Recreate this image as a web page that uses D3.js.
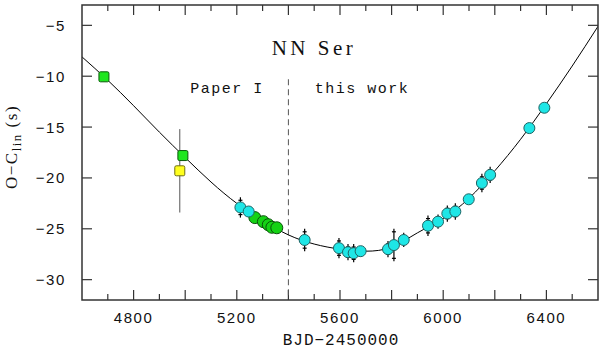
<!DOCTYPE html>
<html>
<head>
<meta charset="utf-8">
<script src="https://cdn.jsdelivr.net/npm/d3@7"></script>
<style>
  body { margin: 0; background: #fff; }
  .tick-label { font-family: "Liberation Sans", sans-serif; font-size: 15px; letter-spacing: 1.6px; fill: #111; }
  .mono { font-family: "Liberation Mono", monospace; fill: #111; }
</style>
</head>
<body>
<script>
//fitted curve
var curveX = [4600, 4700, 4800, 4900, 5000, 5100, 5200, 5300, 5400, 5500, 5600,
              5700, 5800, 5900, 6000, 6100, 6200, 6300, 6400, 6500, 6600];
var curveY = [-8.1, -10.4, -12.9, -15.5, -18.0, -20.4, -22.5, -24.2, -25.6, -26.5, -27.0,
              -27.2, -26.8, -25.4, -24.0, -22.0, -19.3, -16.2, -12.7, -9.0, -5.1];

//green squares
var sqGreenX = [4685, 4991];
var sqGreenY = [-10.06, -17.8];

//yellow square with big error bar
var sqYellowX = [4979];
var sqYellowY = [-19.3];
var sqYellowErr = [4.1];

//green circles
var circGreenX = [5270, 5303, 5322, 5336, 5355];
var circGreenY = [-23.9, -24.3, -24.6, -24.85, -24.9];

//cyan circles
var circCyanX = [5214, 5246, 5463, 5596, 5631, 5653, 5680, 5786, 5809, 5847,
                 5941, 5980, 6016, 6047, 6099, 6150, 6182, 6334, 6392];
var circCyanY = [-22.9, -23.3, -26.1, -26.9, -27.3, -27.4, -27.2, -27.0, -26.6, -26.1,
                 -24.7, -24.3, -23.5, -23.3, -22.1, -20.5, -19.7, -15.1, -13.1];
var circCyanErr = [1.0, 0.4, 1.1, 1.0, 0.8, 0.9, 0.5, 0.8, 1.6, 0.7,
                   1.0, 0.7, 0.8, 0.8, 0.4, 0.9, 0.8, 0.3, 0.3];

var xTicks = [4800, 5200, 5600, 6000, 6400];
var yTicks = [-30, -25, -20, -15, -10, -5];
var dividerX = 5400;

//plot box
var box = {left: 82, right: 598, top: 5, bottom: 300};

var x = d3.scaleLinear().domain([4600, 6600]).range([box.left, box.right]);
var y = d3.scaleLinear().domain([-32, -3]).range([box.bottom, box.top]);

var svg = d3.select("body").append("svg")
  .attr("width", 600)
  .attr("height", 349);

//clip for marks
svg.append("clipPath").attr("id", "clip")
  .append("rect")
  .attr("x", box.left).attr("y", box.top)
  .attr("width", box.right - box.left).attr("height", box.bottom - box.top);

//ticks: major every 200, minor every 100 on x
var minorX = d3.range(4700, 6600, 100);
function tickLen(v) { return v % 200 === 0 ? 10 : 6; }

var ticks = svg.append("g").attr("stroke", "#333").attr("stroke-width", 1.2);
minorX.forEach(function(v) {
  ticks.append("line").attr("x1", x(v)).attr("x2", x(v))
    .attr("y1", box.bottom).attr("y2", box.bottom - tickLen(v));
  ticks.append("line").attr("x1", x(v)).attr("x2", x(v))
    .attr("y1", box.top).attr("y2", box.top + tickLen(v));
});
yTicks.forEach(function(v) {
  ticks.append("line").attr("x1", box.left).attr("x2", box.left + 10)
    .attr("y1", y(v)).attr("y2", y(v));
  ticks.append("line").attr("x1", box.right).attr("x2", box.right - 10)
    .attr("y1", y(v)).attr("y2", y(v));
});

//tick labels
svg.append("g").selectAll("text").data(xTicks).enter().append("text")
  .attr("class", "tick-label")
  .attr("x", function(d) { return x(d); })
  .attr("y", 323)
  .attr("text-anchor", "middle")
  .text(function(d) { return d; });

svg.append("g").selectAll("text").data(yTicks).enter().append("text")
  .attr("class", "tick-label")
  .attr("x", 66)
  .attr("y", function(d) { return y(d) + 5.5; })
  .attr("text-anchor", "end")
  .text(function(d) { return "\u2212" + Math.abs(d); });

//axis titles
svg.append("text")
  .attr("class", "mono")
  .attr("x", 341).attr("y", 345)
  .attr("text-anchor", "middle")
  .style("font-size", "16px")
  .style("letter-spacing", "1px")
  .text("BJD\u22122450000");

var ylab = svg.append("text")
  .attr("transform", "translate(17,147) rotate(-90)")
  .attr("text-anchor", "middle")
  .style("font-family", "'Liberation Serif', serif")
  .style("font-size", "17px")
  .style("letter-spacing", "1.5px")
  .attr("fill", "#111");
ylab.append("tspan").text("O\u2212C");
ylab.append("tspan").attr("dy", 4).style("font-size", "13px").text("lin");
ylab.append("tspan").attr("dy", -4).text(" (s)");

//dashed divider
svg.append("line")
  .attr("x1", x(dividerX)).attr("x2", x(dividerX))
  .attr("y1", y(-10.3)).attr("y2", box.bottom)
  .attr("stroke", "#555").attr("stroke-width", 1)
  .attr("stroke-dasharray", "6,4");

//labels in the plot
svg.append("text")
  .attr("x", 314).attr("y", 55)
  .attr("text-anchor", "middle")
  .style("font-family", "'Liberation Serif', serif")
  .style("font-size", "21px")
  .style("letter-spacing", "3.5px")
  .attr("fill", "#111")
  .text("NN Ser");
svg.append("text").attr("class", "mono")
  .attr("x", 227).attr("y", 93)
  .attr("text-anchor", "middle")
  .style("font-size", "15px").style("letter-spacing", "1.5px")
  .text("Paper I");
svg.append("text").attr("class", "mono")
  .attr("x", 362).attr("y", 93)
  .attr("text-anchor", "middle")
  .style("font-size", "15px").style("letter-spacing", "1.5px")
  .text("this work");

//fitted curve
var fitLine = d3.line()
  .x(function(d) { return x(d[0]); })
  .y(function(d) { return y(d[1]); })
  .curve(d3.curveNatural);

svg.append("path")
  .datum(d3.zip(curveX, curveY))
  .attr("clip-path", "url(#clip)")
  .attr("fill", "none")
  .attr("stroke", "#000")
  .attr("stroke-width", 1)
  .attr("d", fitLine);

//yellow error bar
svg.append("g").selectAll("line").data(d3.range(sqYellowX.length)).enter().append("line")
  .attr("x1", function(i) { return x(sqYellowX[i]); })
  .attr("x2", function(i) { return x(sqYellowX[i]); })
  .attr("y1", function(i) { return y(sqYellowY[i] + sqYellowErr[i]); })
  .attr("y2", function(i) { return y(sqYellowY[i] - sqYellowErr[i]); })
  .attr("stroke", "#555").attr("stroke-width", 1);

//cyan error bars with small caps
var errG = svg.append("g").attr("stroke", "#000").attr("stroke-width", 1.2);
d3.range(circCyanX.length).forEach(function(i) {
  var cx = x(circCyanX[i]);
  var top = y(circCyanY[i] + circCyanErr[i]), bot = y(circCyanY[i] - circCyanErr[i]);
  errG.append("line").attr("x1", cx).attr("x2", cx).attr("y1", top).attr("y2", bot);
  errG.append("line").attr("x1", cx - 2).attr("x2", cx + 2).attr("y1", top + 3).attr("y2", top + 3);
  errG.append("line").attr("x1", cx - 2).attr("x2", cx + 2).attr("y1", bot - 3).attr("y2", bot - 3);
});

//squares
function squares(xs, ys, fill, stroke) {
  svg.append("g").selectAll("rect").data(d3.range(xs.length)).enter().append("rect")
    .attr("x", function(i) { return x(xs[i]) - 5; })
    .attr("y", function(i) { return y(ys[i]) - 5; })
    .attr("width", 10).attr("height", 10)
    .attr("rx", 1.5)
    .attr("fill", fill).attr("stroke", stroke).attr("stroke-width", 1);
}
squares(sqGreenX, sqGreenY, "#1ee61e", "#0a5a0a");
squares(sqYellowX, sqYellowY, "#ffff1e", "#6e6e14");

//circles
function circles(xs, ys, r, fill, stroke) {
  svg.append("g").selectAll("circle").data(d3.range(xs.length)).enter().append("circle")
    .attr("cx", function(i) { return x(xs[i]); })
    .attr("cy", function(i) { return y(ys[i]); })
    .attr("r", r)
    .attr("fill", fill).attr("stroke", stroke).attr("stroke-width", 1);
}
circles(circGreenX, circGreenY, 6, "#14d214", "#0a500a");
circles(circCyanX, circCyanY, 5.5, "#1ee6e6", "#1e6464");

//frame
svg.append("rect")
  .attr("x", box.left).attr("y", box.top)
  .attr("width", box.right - box.left).attr("height", box.bottom - box.top)
  .attr("fill", "none").attr("stroke", "#333").attr("stroke-width", 1.5);
</script>
</body>
</html>
